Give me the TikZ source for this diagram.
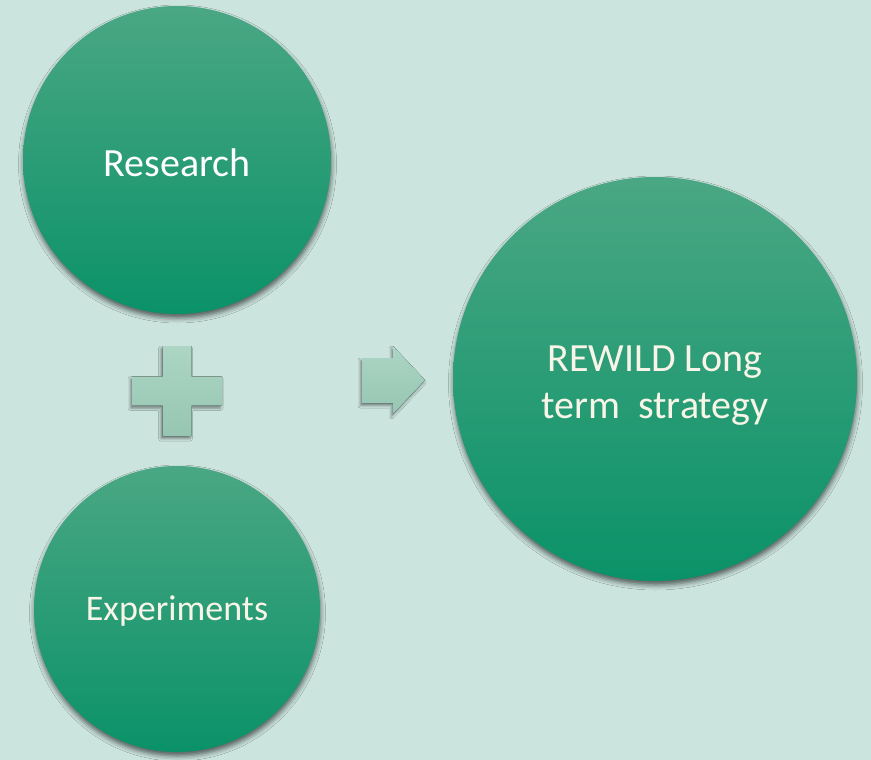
\documentclass[tikz,border=0pt]{standalone}
\usepackage{fontspec}
\setmainfont{Carlito}
\usepackage{tikz}
\usetikzlibrary{shadows.blur}
\definecolor{bgmint}{RGB}{204,228,222}
\definecolor{circtop}{RGB}{74,167,132}
\definecolor{circmid}{RGB}{30,157,118}
\definecolor{circbot}{RGB}{11,146,104}
\definecolor{signtop}{RGB}{172,213,196}
\definecolor{signbot}{RGB}{150,198,178}
\definecolor{cream}{RGB}{248,245,232}

\begin{document}
\begin{tikzpicture}[x=1pt,y=-1pt,
    bubble/.style={circle, inner sep=0pt, align=center, text=cream,
      top color=circtop, middle color=circmid, bottom color=circbot,
      blur shadow={shadow xshift=0.5pt, shadow yshift=-4pt, shadow blur radius=5pt, shadow opacity=60}},
    sign/.style={top color=signtop, bottom color=signbot,
      blur shadow={shadow xshift=-1.5pt, shadow yshift=-2.5pt, shadow blur radius=2.5pt, shadow opacity=45}}]
    % Background
    \fill[bgmint] (0,0) rectangle (871,760);
    \useasboundingbox (0,0) rectangle (871,760);

    % Circles
    \node[bubble, minimum size=308pt, text=white, text height=32pt, text depth=0pt,
          font=\fontsize{40}{47}\selectfont] (research) at (177,160) {Research};
    \node[bubble, minimum size=286pt, text height=28pt, text depth=6pt,
          font=\fontsize{36}{43}\selectfont] (experiments) at (177,609) {Experiments};
    \node[bubble, minimum size=404pt, text height=84pt, text depth=6pt,
          font=\fontsize{40}{47}\selectfont] (strategy) at (655,379) {REWILD Long\\term~~strategy};

    % Plus sign
    \fill[sign] (162.5,346) -- (191.5,346) -- (191.5,376.5) -- (222,376.5) -- (222,405.5) -- (191.5,405.5)
        -- (191.5,436) -- (162.5,436) -- (162.5,405.5) -- (132,405.5) -- (132,376.5) -- (162.5,376.5) -- cycle;
    % Arrow
    \fill[sign] (362,358) -- (393,358) -- (393,346) -- (425,380) -- (393,414) -- (393,403) -- (362,403) -- cycle;
\end{tikzpicture}
\end{document}
